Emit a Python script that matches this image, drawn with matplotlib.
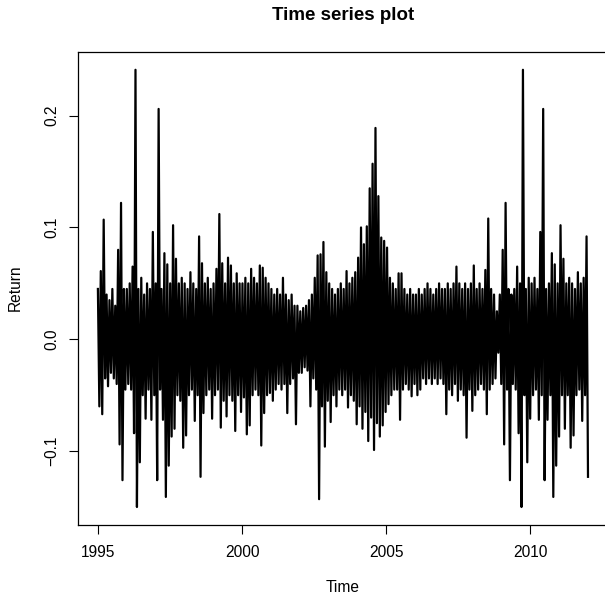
import numpy as np
import matplotlib.pyplot as plt

plt.rcParams['font.family'] = ['Liberation Sans', 'DejaVu Sans']

# upper / lower envelope of the daily returns, one pair per 0.1 year (1995.0 .. 2011.9)
ret_high = [
    0.045, 0.061, 0.107, 0.040, 0.035, 0.045, 0.030, 0.080, 0.122, 0.045,  # 1995
    0.045, 0.050, 0.065, 0.241, 0.045, 0.055, 0.040, 0.050, 0.045, 0.096,  # 1996
    0.050, 0.206, 0.045, 0.077, 0.067, 0.050, 0.102, 0.072, 0.050, 0.055,  # 1997
    0.050, 0.045, 0.060, 0.050, 0.045, 0.092, 0.068, 0.050, 0.055, 0.045,  # 1998
    0.050, 0.063, 0.112, 0.068, 0.050, 0.073, 0.066, 0.050, 0.059, 0.050,  # 1999
    0.050, 0.055, 0.050, 0.063, 0.055, 0.050, 0.066, 0.064, 0.055, 0.050,  # 2000
    0.045, 0.040, 0.045, 0.040, 0.055, 0.040, 0.035, 0.040, 0.030, 0.030,  # 2001
    0.025, 0.028, 0.030, 0.035, 0.040, 0.055, 0.075, 0.076, 0.087, 0.060,  # 2002
    0.050, 0.045, 0.040, 0.045, 0.050, 0.045, 0.061, 0.050, 0.055, 0.060,  # 2003
    0.073, 0.100, 0.085, 0.101, 0.135, 0.157, 0.189, 0.128, 0.091, 0.088,  # 2004
    0.082, 0.055, 0.050, 0.045, 0.059, 0.059, 0.045, 0.040, 0.045, 0.040,  # 2005
    0.040, 0.045, 0.040, 0.045, 0.050, 0.045, 0.040, 0.045, 0.050, 0.045,  # 2006
    0.045, 0.050, 0.045, 0.050, 0.065, 0.050, 0.045, 0.050, 0.045, 0.050,  # 2007
    0.066, 0.045, 0.050, 0.045, 0.062, 0.108, 0.045, 0.040, 0.025, 0.040,  # 2008
    0.080, 0.122, 0.045, 0.040, 0.045, 0.065, 0.050, 0.241, 0.045, 0.055,  # 2009
    0.050, 0.055, 0.045, 0.096, 0.206, 0.045, 0.050, 0.077, 0.067, 0.050,  # 2010
    0.102, 0.072, 0.050, 0.055, 0.050, 0.045, 0.060, 0.050, 0.055, 0.092,  # 2011
]
ret_low = [
    -0.060, -0.067, -0.035, -0.042, -0.030, -0.035, -0.040, -0.094, -0.126, -0.045,  # 1995
    -0.040, -0.045, -0.084, -0.150, -0.110, -0.050, -0.071, -0.045, -0.072, -0.050,  # 1996
    -0.126, -0.045, -0.072, -0.141, -0.113, -0.087, -0.080, -0.050, -0.055, -0.097,  # 1997
    -0.086, -0.050, -0.045, -0.073, -0.050, -0.123, -0.066, -0.050, -0.045, -0.071,  # 1998
    -0.050, -0.045, -0.079, -0.055, -0.069, -0.050, -0.055, -0.082, -0.050, -0.065,  # 1999
    -0.052, -0.085, -0.077, -0.050, -0.045, -0.050, -0.095, -0.066, -0.050, -0.048,  # 2000
    -0.055, -0.045, -0.040, -0.045, -0.040, -0.066, -0.040, -0.035, -0.076, -0.030,  # 2001
    -0.030, -0.025, -0.028, -0.060, -0.035, -0.045, -0.143, -0.060, -0.096, -0.055,  # 2002
    -0.074, -0.050, -0.060, -0.045, -0.050, -0.045, -0.061, -0.050, -0.055, -0.076,  # 2003
    -0.060, -0.080, -0.065, -0.091, -0.070, -0.099, -0.075, -0.087, -0.077, -0.065,  # 2004
    -0.058, -0.050, -0.045, -0.045, -0.072, -0.045, -0.040, -0.045, -0.051, -0.040,  # 2005
    -0.050, -0.045, -0.035, -0.040, -0.035, -0.040, -0.035, -0.040, -0.035, -0.040,  # 2006
    -0.067, -0.045, -0.050, -0.040, -0.055, -0.045, -0.050, -0.088, -0.045, -0.064,  # 2007
    -0.050, -0.045, -0.040, -0.045, -0.067, -0.045, -0.040, -0.035, -0.012, -0.040,  # 2008
    -0.094, -0.045, -0.126, -0.040, -0.045, -0.084, -0.150, -0.050, -0.110, -0.071,  # 2009
    -0.050, -0.045, -0.072, -0.050, -0.126, -0.072, -0.050, -0.141, -0.113, -0.087,  # 2010
    -0.050, -0.080, -0.050, -0.097, -0.086, -0.050, -0.045, -0.073, -0.050, -0.123,  # 2011
]
start_year, end_year = 1995, 2012

year_ticks = [1995, 2000, 2005, 2010]
ret_ticks = [-0.1, 0.0, 0.1, 0.2]
ret_labels = ['\u22120.1', '0.0', '0.1', '0.2']

# interleave high and low so the line zig-zags like the dense daily series
ret = np.empty(2 * len(ret_high))
ret[0::2] = ret_high
ret[1::2] = ret_low
time = np.linspace(start_year, end_year, len(ret))

W, H = 605, 601
fig = plt.figure(figsize=(W / 100, H / 100), dpi=100)
ax = fig.add_axes([78.3 / W, (H - 524.5) / H, 529.3 / W, 472.2 / H])
ax.plot(time, ret, color='black', lw=1.6)

# R style 4% padding around the data
xr = time.max() - time.min()
yr = ret.max() - ret.min()
ax.set_xlim(time.min() - 0.04 * xr, time.max() + 0.04 * xr)
ax.set_ylim(ret.min() - 0.04 * yr, ret.max() + 0.04 * yr)

ax.set_xticks(year_ticks)
ax.set_xticklabels([str(y) for y in year_ticks])
ax.set_yticks(ret_ticks)
ax.set_yticklabels(ret_labels, rotation=90, va='center')
ax.tick_params(direction='out', length=6.8, width=0.8, labelsize=11.2, colors='black')
ax.tick_params(axis='x', pad=8)
ax.tick_params(axis='y', pad=7)
for s in ax.spines.values():
    s.set_linewidth(0.9)

fig.text(343 / W, 1 - 15 / H, 'Time series plot', ha='center', va='center',
         fontsize=13.5, fontweight='bold')
fig.text(343 / W, 1 - 588 / H, 'Time', ha='center', va='center', fontsize=11.2)
fig.text(15 / W, 1 - 288 / H, 'Return', ha='center', va='center', rotation=90, fontsize=11.2)

fig.savefig('out.png', dpi=100)
